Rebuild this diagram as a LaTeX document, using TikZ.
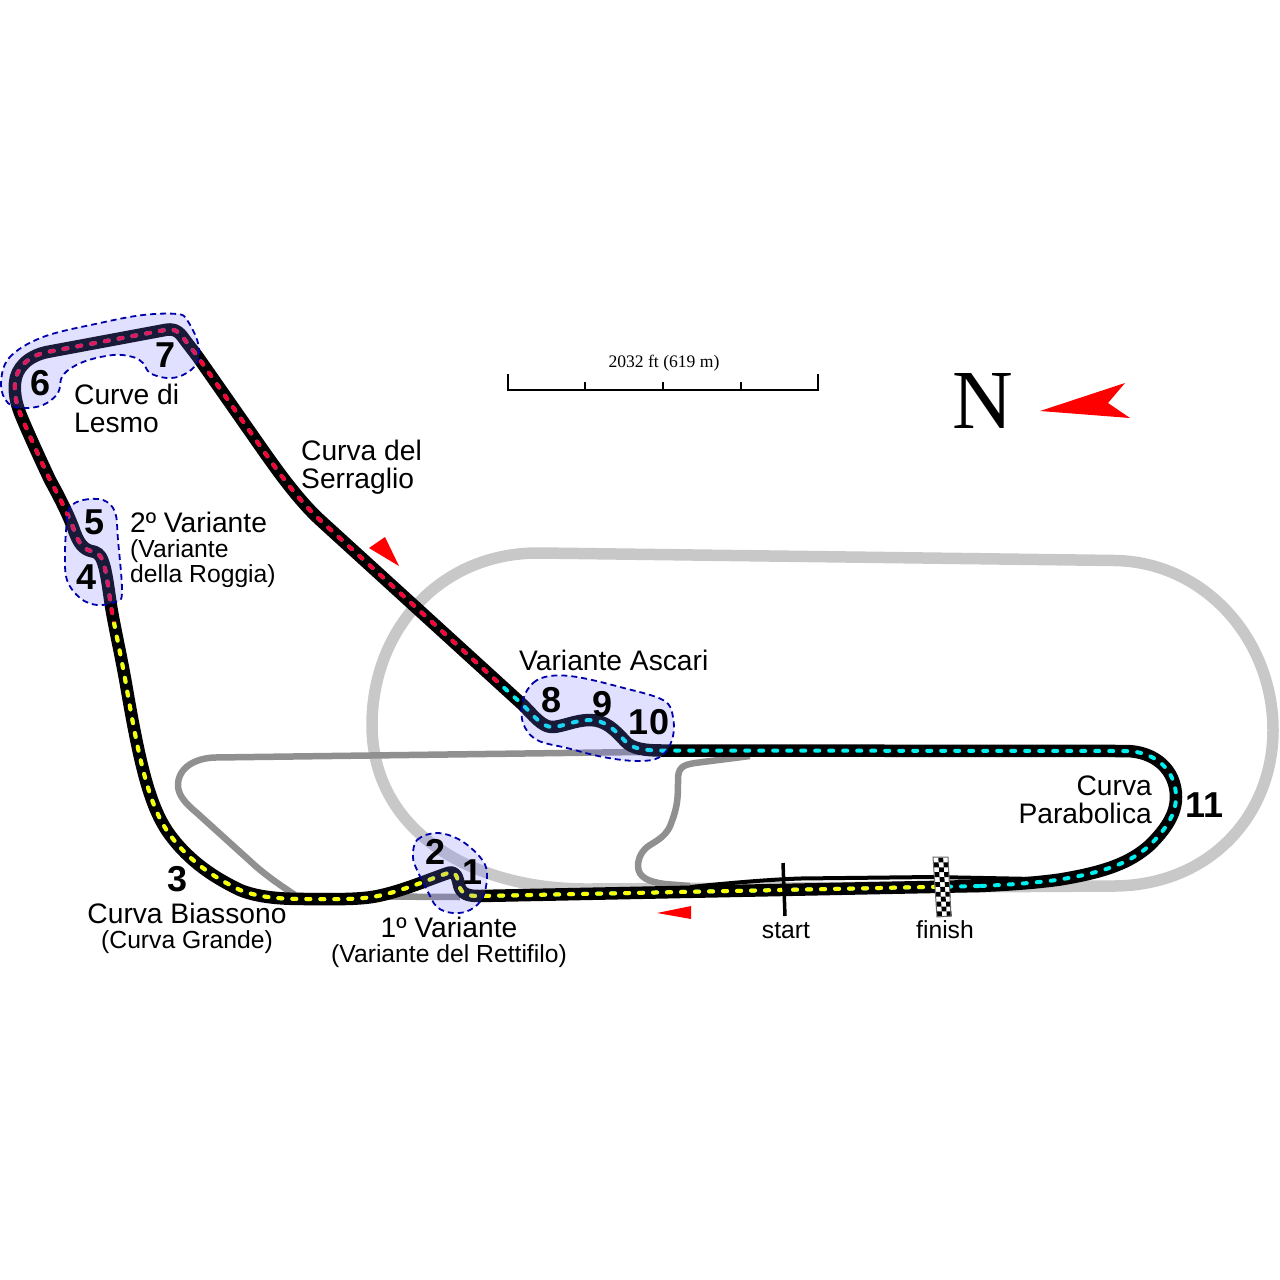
\documentclass[tikz,border=0pt]{standalone}
\usepackage{fontspec}
\setmainfont{Liberation Sans}
\newfontfamily\serifface{Liberation Serif}
\usetikzlibrary{calc}
\definecolor{ovalgrey}{RGB}{200,200,200}
\definecolor{midgrey}{RGB}{144,144,144}
\definecolor{blobfill}{RGB}{118,118,255}
\definecolor{blobline}{RGB}{0,0,170}
\definecolor{sectyellow}{RGB}{255,255,0}
\definecolor{sectred}{RGB}{255,0,51}
\definecolor{sectcyan}{RGB}{0,240,240}
\def\trackpath{(979,886) -- (480,896)
 .. controls (468,896.2) and (461,894) .. (459,885)
 .. controls (457,875) and (455,871) .. (448,873)
 .. controls (430,879) and (405,890) .. (380,895.5)
 .. controls (365,899) and (345,899.5) .. (310,899)
 .. controls (290,899) and (262,899) .. (240,890)
 .. controls (215,878) and (190,862) .. (170,835)
 .. controls (150,808) and (140,765) .. (127,690)
 .. controls (122,660) and (115,630) .. (111,606)
 .. controls (108,585) and (106,570) .. (103,562)
 .. controls (100,553) and (96,552) .. (91,551)
 .. controls (83,549) and (79,543) .. (75,533)
 .. controls (70,518) and (60,498) .. (50,480)
 .. controls (42,463) and (30,437) .. (22,418)
 .. controls (17,406) and (14,396) .. (15,383)
 .. controls (16,368) and (28,356) .. (47,352)
 -- (165,330)
 .. controls (173,328.5) and (177,330) .. (182,336)
 .. controls (190,347) and (193,350) .. (200,360)
 -- (258,443)
 .. controls (270,460) and (295,497) .. (320,520)
 -- (523,705)
 .. controls (533,715) and (542,727) .. (552,727)
 .. controls (562,727) and (575,720) .. (590,720)
 .. controls (605,720) and (615,730) .. (625,741)
 .. controls (632,749) and (645,750.5) .. (663,750.5)
 -- (1125,751)
 .. controls (1155,751) and (1176,770) .. (1176,797)
 .. controls (1176,815) and (1165,830) .. (1150,845)
 .. controls (1130,863) and (1105,872) .. (1060,879.5)
 .. controls (1035,883) and (1005,885) .. (979,886) -- cycle}
\tikzset{
 ovaltrack/.style={draw=ovalgrey,line width=11.5pt},
 oldtrack/.style={draw=midgrey,line width=6.5pt,line join=round},
 pitlane/.style={draw=black,line width=4pt},
 tarmac/.style={draw=black,line width=12.5pt,line join=round},
 sectordash/.style={line width=4pt,line cap=round,dash pattern=on 4pt off 10pt},
 zone/.style={fill=blobfill,fill opacity=0.22,draw=blobline,draw opacity=1,line width=1.8pt,dash pattern=on 6pt off 4pt},
 redmark/.style={fill=red,draw=none},
 lbl/.style={inner sep=0pt,anchor=base west,font=\fontsize{28.2}{28}\selectfont},
 lblc/.style={lbl,anchor=base},
 lble/.style={lbl,anchor=base east},
 sublbl/.style={inner sep=0pt,anchor=base west,font=\fontsize{24.7}{24}\selectfont},
 sublblc/.style={sublbl,anchor=base},
 turn/.style={inner sep=0pt,anchor=base,font=\fontsize{36}{36}\selectfont\bfseries},
 flaglbl/.style={inner sep=0pt,anchor=base,font=\fontsize{24.7}{25}\selectfont},
 scalebar/.style={draw=black,line width=2pt}
}
\begin{document}
\begin{tikzpicture}[x=1pt,y=-1pt]
\useasboundingbox (0,0) rectangle (1280,1280);
% outer oval
\draw[ovaltrack] (540,553) -- (1115,560.5) .. controls (1205,562) and (1273,640) .. (1273,730) .. controls (1273,815) and (1210,885) .. (1115,886) -- (590,889) .. controls (470,890) and (372,830) .. (372,725) .. controls (372,630) and (440,552) .. (540,553) -- cycle;
% old circuit
\draw[oldtrack] (640,752) -- (215,757.5) .. controls (195,758) and (178,768) .. (178,785) .. controls (178,795) and (185,803) .. (197,813) -- (250,861) .. controls (265,875) and (280,885) .. (295,895);
\draw[oldtrack] (295,896) -- (460,897);
\draw[oldtrack] (750,756) -- (695,763) .. controls (682,765) and (678,768) .. (678,780) .. controls (678,795) and (678,805) .. (672,821) .. controls (668,835) and (658,840) .. (650,845) .. controls (642,850) and (638,858) .. (638,866) .. controls (638,878) and (650,882) .. (665,884) -- (690,886);
% pit lane
\draw[pitlane] (690,887) .. controls (720,884) and (760,880) .. (800,878.5) -- (933,877) -- (1035,879);
% track
\draw[tarmac] \trackpath;
\draw[sectordash,draw=sectcyan] \trackpath;
\begin{scope}
\clip (0,622) -- (200,622) -- (200,830) -- (945,830) -- (945,950) -- (0,950) -- cycle;
\draw[sectordash,draw=sectyellow] \trackpath;
\end{scope}
\begin{scope}
\clip (0,0) -- (800,0) -- (550,633) -- (450,733) -- (200,622) -- (0,622) -- cycle;
\draw[sectordash,draw=sectred] \trackpath;
\end{scope}
% zones
\draw[zone] plot[smooth cycle,tension=0.6] coordinates {(1,385)(9,358)(43,337)(100,323)(143,315)(177,314)(187,320)(198,343)(197,363)(183,375)(167,378)(150,373)(143,363)(133,357)(113,355)(83,362)(63,375)(58,393)(43,405)(23,408)(8,403)};
\draw[zone] plot[smooth cycle,tension=0.6] coordinates {(70,507)(83,500)(103,500)(115,512)(118,540)(122,593)(115,602)(97,605)(80,598)(67,580)(65,553)(67,520)};
\draw[zone] plot[smooth cycle,tension=0.6] coordinates {(413,857)(417,840)(437,833)(460,840)(480,857)(487,873)(483,897)(470,910)(453,913)(437,907)(427,890)(417,870)};
\draw[zone] plot[smooth cycle,tension=0.6] coordinates {(523,700)(533,683)(550,676)(577,677)(620,687)(663,700)(673,717)(672,740)(660,757)(637,761)(603,757)(567,748)(537,740)(523,723)};
% start line
\draw[black,line width=3.5pt] (783,863) -- (785,916);
% finish flag
\fill[white] (933,857) -- (948,857) -- (951,916) -- (937,917) -- cycle;
\foreach \i in {0,1,2}{\foreach \j in {0,...,11}{
 \pgfmathparse{int(mod(\i+\j,2))}
 \ifnum\pgfmathresult=1
 \fill[black] ({933.5+\i*4.8+\j*0.31},{857.5+\j*4.9}) -- ({933.5+(\i+1)*4.8+\j*0.31},{857.5+\j*4.9}) -- ({933.5+(\i+1)*4.8+(\j+1)*0.31},{857.5+(\j+1)*4.9}) -- ({933.5+\i*4.8+(\j+1)*0.31},{857.5+(\j+1)*4.9}) -- cycle;
 \fi
}}
\draw[black!60,line width=1pt] (933,857) -- (948,857) -- (951,916) -- (937,917) -- cycle;
% direction arrows
\fill[redmark] (369,548) -- (385,537) -- (399,566) -- cycle;
\fill[redmark] (657,913) -- (691,906) -- (691,919) -- cycle;
\fill[redmark] (1040,411) -- (1125,383) -- (1108,403) -- (1130,418) -- cycle;
% scale
\draw[scalebar] (508,374) -- (508,390) -- (818,390) -- (818,374);
\draw[scalebar] (585,382) -- (585,390);
\draw[scalebar] (663,382) -- (663,390);
\draw[scalebar] (741,382) -- (741,390);
\node[inner sep=0pt,anchor=base,font=\serifface\fontsize{17.6}{18}\selectfont] (scaletext) at (664,367) {2032 ft (619 m)};
\node[inner sep=0pt,anchor=base,font=\serifface\fontsize{84}{84}\selectfont] (north) at (983,428) {N};
% labels
\node[lbl] (lesmoa) at (74,404) {Curve di};
\node[lbl] (lesmob) at (74,432) {Lesmo};
\node[lbl] (serra) at (301,460) {Curva del};
\node[lbl] (serrb) at (301,488) {Serraglio};
\node[lbl] (roggiaa) at (130,532) {2º Variante};
\node[sublbl] (roggiab) at (130,557) {(Variante};
\node[sublbl] (roggiac) at (130,582) {della Roggia)};
\node[lbl] (ascari) at (519,670) {Variante Ascari};
\node[lblc] (rettia) at (449,937) {1º Variante};
\node[sublblc] (rettib) at (449,962) {(Variante del Rettifilo)};
\node[lblc] (biasa) at (187,923) {Curva Biassono};
\node[sublblc] (biasb) at (187,948) {(Curva Grande)};
\node[lble] (paraa) at (1152,795.5) {Curva};
\node[lble] (parab) at (1152,823.5) {Parabolica};
\node[flaglbl] (startl) at (786,938) {start};
\node[flaglbl] (finishl) at (945,938) {finish};
% turn numbers
\node[turn] (t1) at (473,884) {1};
\node[turn] (t2) at (436,864) {2};
\node[turn] (t3) at (178,891) {3};
\node[turn] (t4) at (86.5,589) {4};
\node[turn] (t5) at (95,534.5) {5};
\node[turn] (t6) at (41,395.5) {6};
\node[turn] (t7) at (165.5,367.5) {7};
\node[turn] (t8) at (552,712) {8};
\node[turn] (t9) at (603,716) {9};
\node[turn] (t10) at (649,734) {10};
\node[turn] (t11) at (1204.5,817) {11};
\end{tikzpicture}
\end{document}
